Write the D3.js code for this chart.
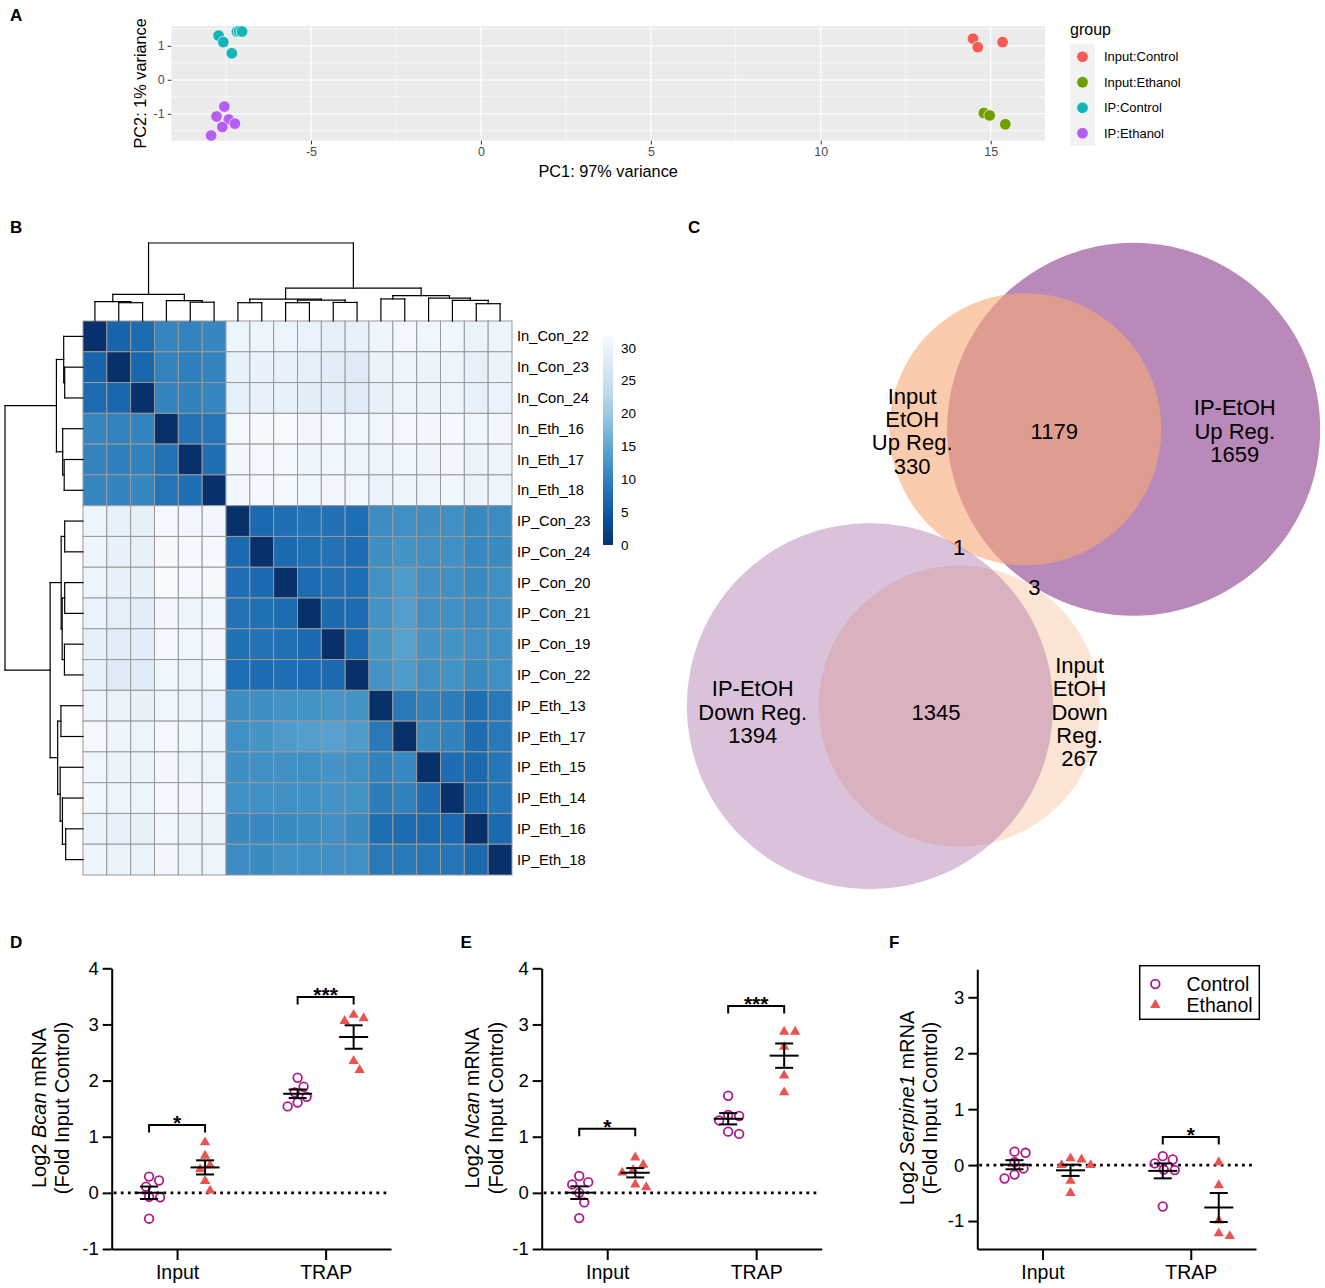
<!DOCTYPE html>
<html>
<head>
<meta charset="utf-8">
<script src="https://cdn.jsdelivr.net/npm/d3@7"></script>
<style>
  body { margin: 0; background: #fff; }
  svg { display: block; }
  text { font-family: "Liberation Sans", Arial, Helvetica, sans-serif; }
</style>
</head>
<body>
<svg id="fig" width="1325" height="1288"></svg>
<script>
// ---------- data: panel A (PCA) ----------
var pcaGroups = ["Input:Control", "Input:Ethanol", "IP:Control", "IP:Ethanol"];
var pcaColors = ["#F25C55", "#6F9E00", "#14B4B7", "#B45EF5"];
var pcaInputCon = [[14.48, 1.21], [14.62, 0.96], [15.35, 1.11]];
var pcaInputEth = [[14.80, -0.98], [14.97, -1.05], [15.43, -1.31]];
var pcaIPCon = [[-7.72, 1.30], [-7.58, 1.11], [-7.33, 0.78], [-7.18, 1.42], [-7.11, 1.43], [-7.03, 1.42]];
var pcaIPEth = [[-7.55, -0.79], [-7.78, -1.08], [-7.42, -1.17], [-7.61, -1.39], [-7.24, -1.29], [-7.94, -1.64]];
var pcaXTicks = [-5, 0, 5, 10, 15], pcaXMinor = [-7.5, -2.5, 2.5, 7.5, 12.5];
var pcaYTicks = [-1, 0, 1], pcaYMinor = [-1.5, -0.5, 0.5, 1.5];

// ---------- data: panel B (sample distance heatmap) ----------
var sampleNames = ["In_Con_22", "In_Con_23", "In_Con_24", "In_Eth_16", "In_Eth_17", "In_Eth_18",
  "IP_Con_23", "IP_Con_24", "IP_Con_20", "IP_Con_21", "IP_Con_19", "IP_Con_22",
  "IP_Eth_13", "IP_Eth_17", "IP_Eth_15", "IP_Eth_14", "IP_Eth_16", "IP_Eth_18"];
// lower triangle of the distance matrix, row i = distances to samples 0..i-1
var distLower = [
  [],
  [6.5],
  [7.4, 6.7],
  [10.4, 10.2, 10.3],
  [10.2, 9.8, 10.1, 8.1],
  [10.6, 10.3, 10.5, 8.4, 7.8],
  [30.3, 29.4, 29.2, 31.2, 31.0, 31.1],
  [30.6, 29.8, 29.6, 31.6, 31.2, 31.4, 7.0],
  [30.4, 29.6, 29.5, 32.0, 31.4, 31.5, 7.8, 7.2],
  [29.9, 29.0, 28.8, 31.0, 30.6, 30.9, 8.2, 7.9, 7.3],
  [29.2, 28.5, 28.4, 31.2, 30.8, 31.0, 8.0, 8.1, 7.9, 7.2],
  [29.4, 28.0, 28.2, 30.8, 30.4, 30.7, 7.6, 7.5, 7.6, 7.3, 7.1],
  [30.5, 30.0, 29.8, 30.8, 30.3, 29.9, 11.4, 11.6, 12.0, 12.1, 12.5, 12.1],
  [31.2, 30.6, 30.4, 31.2, 30.9, 30.6, 11.8, 12.3, 13.2, 13.7, 14.1, 13.3, 9.0],
  [30.8, 30.2, 30.0, 31.0, 30.6, 30.4, 11.6, 11.8, 11.9, 11.8, 12.3, 11.8, 10.0, 10.8],
  [30.9, 30.4, 30.3, 31.4, 31.0, 30.8, 11.7, 11.9, 11.8, 11.9, 12.3, 12.2, 9.5, 10.0, 7.5],
  [30.0, 29.6, 29.5, 30.8, 30.2, 30.0, 10.9, 10.8, 11.2, 11.3, 11.7, 11.2, 7.6, 7.5, 7.1, 7.0],
  [30.5, 30.0, 29.9, 31.0, 30.6, 30.4, 11.3, 11.2, 11.7, 11.7, 11.8, 11.7, 9.0, 9.0, 8.6, 8.5, 7.0]
];
// hierarchical clustering tree (leaf = sample index, h = merge height)
var sampleTree = {h: 31.1, kids: [
  {h: 10.6, kids: [{h: 7.7, kids: [0, {h: 7.3, kids: [1, 2]}]}, {h: 8.1, kids: [3, {h: 7.5, kids: [4, 5]}]}]},
  {h: 13.1, kids: [
    {h: 8.7, kids: [{h: 7.3, kids: [6, 7]}, {h: 8.3, kids: [{h: 7.3, kids: [8, 9]}, {h: 7.4, kids: [10, 11]}]}]},
    {h: 10.1, kids: [{h: 8.8, kids: [12, 13]}, {h: 9.1, kids: [14, {h: 8.2, kids: [15, {h: 6.9, kids: [16, 17]}]}]}]}
  ]}
]};
var legendTicks = [0, 5, 10, 15, 20, 25, 30];
var blues9 = ["#08306b", "#08519c", "#2171b5", "#4292c6", "#6baed6", "#9ecae1", "#c6dbef", "#deebf7", "#f7fbff"];

// ---------- data: panel C (Venn) ----------
var vennNames = [["Input", "EtOH", "Up Reg."], ["IP-EtOH", "Up Reg."], ["IP-EtOH", "Down Reg."], ["Input", "EtOH", "Down", "Reg."]];
var vennUnique = [330, 1659, 1394, 267];
var vennShared = [{sets: [0, 1], n: 1179}, {sets: [2, 3], n: 1345}, {sets: [0, 2], n: 1}, {sets: [1, 3], n: 3}];
var vennColors = ["#F8A876", "#965096", "#965096", "#F8A876"];
var vennAlpha = [0.6, 0.67, 0.35, 0.3];
var vennCrossAngle = 119.3; // degrees, direction Input-Up centre -> IP-Down centre

// ---------- data: panels D-F (qPCR) ----------
var dotCategories = ["Input", "TRAP"];
var bcanControl = [[0.22, 0.29, 0.11, -0.07, -0.08, -0.46], [2.05, 1.89, 1.79, 1.71, 1.61, 1.54]];
var bcanEthanol = [[0.90, 0.66, 0.49, 0.42, 0.21, 0.04], [3.17, 3.06, 3.11, 2.35, 2.19]];
var ncanControl = [[0.19, 0.30, 0.15, 0.00, -0.17, -0.45], [1.73, 1.39, 1.37, 1.29, 1.05, 1.09]];
var ncanEthanol = [[0.50, 0.63, 0.41, 0.36, 0.10, 0.15], [2.87, 2.87, 2.60, 2.09, 1.79]];
var serpControl = [[0.22, 0.24, 0.05, -0.06, -0.24, -0.17], [0.03, 0.16, 0.10, -0.09, -0.08, -0.74]];
var serpEthanol = [[0.10, 0.12, 0.00, 0.00, -0.28, -0.50], [0.05, -0.36, -0.99, -1.27, -1.22]];
var bcanSig = [{cat: 0, y: 1.21, label: "*"}, {cat: 1, y: 3.49, label: "***"}];
var ncanSig = [{cat: 0, y: 1.14, label: "*"}, {cat: 1, y: 3.33, label: "***"}];
var serpSig = [{cat: 1, y: 0.50, label: "*"}];

var svg = d3.select("#fig");

function panelLetter(t, x, y) {
  svg.append("text").attr("x", x).attr("y", y).attr("font-size", 17)
    .attr("font-weight", "bold").text(t);
}

// ================= A: PCA =================
(function () {
  var g = svg.append("g");
  var all = pcaInputCon.concat(pcaInputEth, pcaIPCon, pcaIPEth);
  function expand(ext) { var d = (ext[1] - ext[0]) * 0.05; return [ext[0] - d, ext[1] + d]; }
  var L = 171.4, R = 1045, T = 26, B = 140.7;
  var x = d3.scaleLinear().domain(expand(d3.extent(all, function (d) { return d[0]; }))).range([L, R]);
  var y = d3.scaleLinear().domain(expand(d3.extent(all, function (d) { return d[1]; }))).range([B, T]);

  g.append("rect").attr("x", L).attr("y", T).attr("width", R - L).attr("height", B - T).attr("fill", "#ebebeb");
  g.selectAll(".xmin").data(pcaXMinor).enter().append("line")
    .attr("x1", x).attr("x2", x).attr("y1", T).attr("y2", B).attr("stroke", "#fff").attr("stroke-width", 0.6);
  g.selectAll(".ymin").data(pcaYMinor).enter().append("line")
    .attr("y1", y).attr("y2", y).attr("x1", L).attr("x2", R).attr("stroke", "#fff").attr("stroke-width", 0.6);
  g.selectAll(".xmaj").data(pcaXTicks).enter().append("line")
    .attr("x1", x).attr("x2", x).attr("y1", T).attr("y2", B).attr("stroke", "#fff").attr("stroke-width", 1.2);
  g.selectAll(".ymaj").data(pcaYTicks).enter().append("line")
    .attr("y1", y).attr("y2", y).attr("x1", L).attr("x2", R).attr("stroke", "#fff").attr("stroke-width", 1.2);

  var xa = g.append("g").attr("transform", "translate(0," + B + ")")
    .call(d3.axisBottom(x).tickValues(pcaXTicks).tickSize(3.7).tickSizeOuter(0).tickPadding(3)
      .tickFormat(function (d) { return String(d); }));
  var ya = g.append("g").attr("transform", "translate(" + L + ",0)")
    .call(d3.axisLeft(y).tickValues(pcaYTicks).tickSize(3.7).tickSizeOuter(0).tickPadding(3)
      .tickFormat(function (d) { return String(d); }));
  [xa, ya].forEach(function (a) {
    a.select(".domain").remove();
    a.selectAll("line").attr("stroke", "#333");
    a.selectAll("text").attr("fill", "#4d4d4d").attr("font-size", 12.5)
      .style("font-family", "'Liberation Sans', Arial, sans-serif");
  });

  var groups = [pcaInputCon, pcaInputEth, pcaIPCon, pcaIPEth];
  groups.forEach(function (pts, gi) {
    g.selectAll(".pt" + gi).data(pts).enter().append("circle")
      .attr("cx", function (d) { return x(d[0]); }).attr("cy", function (d) { return y(d[1]); })
      .attr("r", 5.8).attr("fill", pcaColors[gi]).attr("stroke", "#fff").attr("stroke-width", 0.7);
  });

  g.append("text").attr("x", (L + R) / 2).attr("y", 176.5).attr("text-anchor", "middle")
    .attr("font-size", 16.3).text("PC1: 97% variance");
  g.append("text").attr("transform", "translate(139.5," + ((T + B) / 2) + ") rotate(-90)")
    .attr("text-anchor", "middle").attr("dominant-baseline", "central")
    .attr("font-size", 16.3).text("PC2: 1% variance");

  // legend
  var ly = d3.scaleBand().domain(pcaGroups).range([44, 146]);
  g.append("text").attr("x", 1070).attr("y", 35).attr("font-size", 16).text("group");
  g.append("rect").attr("x", 1070).attr("y", 44).attr("width", 25).attr("height", 102).attr("fill", "#f2f2f2");
  pcaGroups.forEach(function (name, i) {
    var cy = ly(name) + ly.bandwidth() / 2;
    g.append("circle").attr("cx", 1082.5).attr("cy", cy).attr("r", 5.8)
      .attr("fill", pcaColors[i]).attr("stroke", "#fff").attr("stroke-width", 0.7);
    g.append("text").attr("x", 1104).attr("y", cy).attr("dominant-baseline", "central")
      .attr("font-size", 13).text(name);
  });
})();

// ================= B: heatmap =================
(function () {
  var g = svg.append("g");
  var n = sampleNames.length;
  var dist = d3.range(n).map(function (i) {
    return d3.range(n).map(function (j) {
      if (i === j) return 0;
      return i > j ? distLower[i][j] : distLower[j][i];
    });
  });
  var maxD = d3.max(dist, function (r) { return d3.max(r); });
  var color = d3.scaleLinear().domain(blues9.map(function (c, i) { return i * maxD / 8; }))
    .range(blues9).interpolate(d3.interpolateRgb);

  var idx = d3.range(n);
  var cx = d3.scaleBand().domain(idx).range([83, 512]);
  var cy = d3.scaleBand().domain(idx).range([321, 875]);

  var cells = [];
  dist.forEach(function (row, i) { row.forEach(function (v, j) { cells.push({i: i, j: j, v: v}); }); });
  g.selectAll(".cell").data(cells).enter().append("rect")
    .attr("x", function (d) { return cx(d.j); }).attr("y", function (d) { return cy(d.i); })
    .attr("width", cx.bandwidth()).attr("height", cy.bandwidth())
    .attr("fill", function (d) { return color(d.v); })
    .attr("stroke", "#999").attr("stroke-width", 1);

  g.selectAll(".rlab").data(sampleNames).enter().append("text")
    .attr("x", 517).attr("y", function (d, i) { return cy(i) + cy.bandwidth() / 2; })
    .attr("dominant-baseline", "central").attr("font-size", 14.7).text(function (d) { return d; });

  // dendrograms
  var hs = d3.scaleLinear().domain([0, sampleTree.h]).range([0, 78]);
  function pos(node, band) {
    if (typeof node === "number") return band(node) + band.bandwidth() / 2;
    return d3.mean(node.kids, function (k) { return pos(k, band); });
  }
  function height(node) { return typeof node === "number" ? 0 : node.h; }
  var segsTop = [], segsLeft = [];
  (function walk(node) {
    if (typeof node === "number") return;
    var p = node.kids.map(function (k) { return pos(k, cx); });
    var q = node.kids.map(function (k) { return pos(k, cy); });
    segsTop.push([p[0], node.h, p[1], node.h]);
    segsLeft.push([node.h, q[0], node.h, q[1]]);
    node.kids.forEach(function (k, i) {
      segsTop.push([p[i], node.h, p[i], height(k)]);
      segsLeft.push([node.h, q[i], height(k), q[i]]);
      walk(k);
    });
  })(sampleTree);
  g.selectAll(".dt").data(segsTop).enter().append("line")
    .attr("x1", function (d) { return d[0]; }).attr("x2", function (d) { return d[2]; })
    .attr("y1", function (d) { return 321 - hs(d[1]); }).attr("y2", function (d) { return 321 - hs(d[3]); })
    .attr("stroke", "#000").attr("stroke-width", 1.2).attr("stroke-linecap", "square");
  g.selectAll(".dl").data(segsLeft).enter().append("line")
    .attr("x1", function (d) { return 83 - hs(d[0]); }).attr("x2", function (d) { return 83 - hs(d[2]); })
    .attr("y1", function (d) { return d[1]; }).attr("y2", function (d) { return d[3]; })
    .attr("stroke", "#000").attr("stroke-width", 1.2).attr("stroke-linecap", "square");

  // colour legend
  var ls = d3.scaleLinear().domain([0, maxD]).range([545, 335]);
  var grad = svg.append("defs").append("linearGradient").attr("id", "bluesGrad")
    .attr("x1", 0).attr("y1", 1).attr("x2", 0).attr("y2", 0);
  blues9.forEach(function (c, i) { grad.append("stop").attr("offset", i / 8).attr("stop-color", c); });
  g.append("rect").attr("x", 603).attr("y", ls(maxD)).attr("width", 10)
    .attr("height", ls(0) - ls(maxD)).attr("fill", "url(#bluesGrad)");
  g.selectAll(".lt").data(legendTicks).enter().append("text")
    .attr("x", 621).attr("y", function (d) { return ls(d); }).attr("dominant-baseline", "central")
    .attr("font-size", 13.5).text(function (d) { return d; });
})();

// ================= C: Venn =================
(function () {
  var g = svg.append("g");
  var k = 3.5, unitArea = Math.PI * k * k;
  var sizes = vennUnique.map(function (u, i) {
    return u + d3.sum(vennShared.filter(function (s) { return s.sets.indexOf(i) >= 0; }), function (s) { return s.n; });
  });
  var r = sizes.map(function (s) { return k * Math.sqrt(s); });
  function lens(r1, r2, d) {
    if (d >= r1 + r2) return 0;
    if (d <= Math.abs(r1 - r2)) return Math.PI * Math.min(r1, r2) * Math.min(r1, r2);
    var a = r1 * r1 * Math.acos((d * d + r1 * r1 - r2 * r2) / (2 * d * r1));
    var b = r2 * r2 * Math.acos((d * d + r2 * r2 - r1 * r1) / (2 * d * r2));
    var c = 0.5 * Math.sqrt((-d + r1 + r2) * (d + r1 - r2) * (d - r1 + r2) * (d + r1 + r2));
    return a + b - c;
  }
  function distFor(i, j, n) {
    var lo = Math.abs(r[i] - r[j]), hi = r[i] + r[j], target = n * unitArea;
    for (var it = 0; it < 60; it++) {
      var mid = (lo + hi) / 2;
      if (lens(r[i], r[j], mid) > target) lo = mid; else hi = mid;
    }
    return (lo + hi) / 2;
  }
  var dTop = distFor(0, 1, vennShared[0].n), dBot = distFor(2, 3, vennShared[1].n);
  var d02 = distFor(0, 2, vennShared[2].n);
  var ang = vennCrossAngle * Math.PI / 180;
  var L = [d02 * Math.cos(ang), d02 * Math.sin(ang)];
  var c = [[0, 0], [dTop, 0], L, [L[0] + dBot, L[1]]];
  var bx = [Math.min(c[2][0] - r[2], c[0][0] - r[0]), c[1][0] + r[1]];
  var by = [Math.min(c[0][1] - r[0], c[1][1] - r[1]), c[2][1] + r[2]];
  var ox = 1003.5 - (bx[0] + bx[1]) / 2, oy = 566 - (by[0] + by[1]) / 2;
  c = c.map(function (p) { return [p[0] + ox, p[1] + oy]; });

  [1, 0, 3, 2].forEach(function (i) {
    g.append("circle").attr("cx", c[i][0]).attr("cy", c[i][1]).attr("r", r[i])
      .attr("fill", vennColors[i]).attr("fill-opacity", vennAlpha[i]);
  });

  var fs = 22, lh = 23.3;
  function block(lines, x, y) {
    var t = g.append("text").attr("text-anchor", "middle").attr("font-size", fs);
    var y0 = y - (lines.length - 1) * lh / 2;
    lines.forEach(function (s, i) {
      t.append("tspan").attr("x", x).attr("y", y0 + i * lh).attr("dominant-baseline", "central").text(s);
    });
  }
  var yTop = (c[0][1] + c[1][1]) / 2 + 2, yBot = (c[2][1] + c[3][1]) / 2 + 6;
  block(vennNames[0].concat([vennUnique[0]]), ((c[0][0] - r[0]) + (c[1][0] - r[1])) / 2 - 6, yTop);
  block([String(vennShared[0].n)], ((c[1][0] - r[1]) + (c[0][0] + r[0])) / 2, yTop);
  block(vennNames[1].concat([vennUnique[1]]), ((c[0][0] + r[0]) + (c[1][0] + r[1])) / 2 - 6, yTop);
  block(vennNames[2].concat([vennUnique[2]]), ((c[2][0] - r[2]) + (c[3][0] - r[3])) / 2, yBot);
  block([String(vennShared[1].n)], ((c[3][0] - r[3]) + (c[2][0] + r[2])) / 2, yBot);
  block(vennNames[3].concat([vennUnique[3]]), ((c[2][0] + r[2]) + (c[3][0] + r[3])) / 2 + 3, yBot);
  [2, 3].forEach(function (si) {
    var s = vennShared[si], p = c[s.sets[0]], q = c[s.sets[1]];
    var len = Math.hypot(q[0] - p[0], q[1] - p[1]);
    var along = r[s.sets[0]] + (len - r[s.sets[0]] - r[s.sets[1]]) / 2;
    block([String(s.n)], p[0] + (q[0] - p[0]) / len * along, p[1] + (q[1] - p[1]) / len * along);
  });
})();

// ================= D-F: dot plots =================
function swarm(vals, ypx, minD) {
  var order = d3.range(vals.length).sort(function (a, b) { return vals[b] - vals[a]; });
  var placed = [], off = [];
  order.forEach(function (i) {
    var yy = ypx(vals[i]);
    for (var s = 0; s < 80; s++) {
      var dx = s === 0 ? 0 : (s % 2 ? Math.ceil(s / 2) : -Math.ceil(s / 2));
      if (placed.every(function (p) { return Math.hypot(p[0] - dx, p[1] - yy) >= minD; })) {
        off[i] = dx; placed.push([dx, yy]); break;
      }
    }
  });
  return off;
}

var markCircle = {r: 4.3, stroke: "#AE1A8B", width: 1.8};
var markTriangle = {size: 46, fill: "#EA5350"};

function dotPanel(cfg) {
  var g = svg.append("g");
  var y = d3.scaleLinear().domain(cfg.domain).range([1249, cfg.top]);
  var x = d3.scalePoint().domain(dotCategories).range([cfg.left, cfg.right]).padding(0.44);
  var groupShift = 28;

  var ya = g.append("g").attr("transform", "translate(" + cfg.left + ",0)")
    .call(d3.axisLeft(y).tickValues(cfg.ticks).tickSize(9).tickSizeOuter(0).tickPadding(4)
      .tickFormat(function (d) { return String(d); }));
  var xa = g.append("g").attr("transform", "translate(0,1249)")
    .call(d3.axisBottom(x).tickSize(11).tickSizeOuter(0).tickPadding(5));
  [ya, xa].forEach(function (a) {
    a.select(".domain").attr("stroke-width", 2);
    a.selectAll("line").attr("stroke-width", 2);
    a.selectAll("text").attr("fill", "#000").style("font-family", "'Liberation Sans', Arial, sans-serif");
  });
  ya.selectAll("text").attr("font-size", 18.5);
  xa.selectAll("text").attr("font-size", 19.5);

  g.append("line").attr("x1", cfg.left + 2).attr("x2", cfg.right - 4)
    .attr("y1", y(0)).attr("y2", y(0)).attr("stroke", "#000").attr("stroke-width", 2.8)
    .attr("stroke-dasharray", "2.8,4.3");

  var series = [{vals: cfg.control, shift: -groupShift, kind: "c"}, {vals: cfg.ethanol, shift: groupShift, kind: "t"}];
  series.forEach(function (s) {
    s.vals.forEach(function (vals, ci) {
      var cxp = x(dotCategories[ci]) + s.shift;
      var off = swarm(vals, y, 10.5);
      var pts = vals.map(function (v, i) { return {x: cxp + off[i], y: y(v)}; });
      if (s.kind === "c") {
        g.selectAll(null).data(pts).enter().append("circle")
          .attr("cx", function (d) { return d.x; }).attr("cy", function (d) { return d.y; })
          .attr("r", markCircle.r).attr("fill", "none").attr("stroke", markCircle.stroke)
          .attr("stroke-width", markCircle.width);
      } else {
        var tri = d3.symbol().type(d3.symbolTriangle).size(markTriangle.size);
        g.selectAll(null).data(pts).enter().append("path").attr("d", tri)
          .attr("transform", function (d) { return "translate(" + d.x + "," + d.y + ")"; })
          .attr("fill", markTriangle.fill);
      }
      var m = d3.mean(vals), se = d3.deviation(vals) / Math.sqrt(vals.length);
      var sem = [[cxp - 14.5, y(m), cxp + 14.5, y(m)], [cxp - 9, y(m + se), cxp + 9, y(m + se)],
        [cxp - 9, y(m - se), cxp + 9, y(m - se)], [cxp, y(m + se), cxp, y(m - se)]];
      g.selectAll(null).data(sem).enter().append("line")
        .attr("x1", function (d) { return d[0]; }).attr("y1", function (d) { return d[1]; })
        .attr("x2", function (d) { return d[2]; }).attr("y2", function (d) { return d[3]; })
        .attr("stroke", "#000").attr("stroke-width", 2);
    });
  });

  cfg.sig.forEach(function (s) {
    var x0 = x(dotCategories[s.cat]) - groupShift, x1 = x(dotCategories[s.cat]) + groupShift, yy = y(s.y);
    g.append("path").attr("d", "M" + x0 + "," + (yy + 7.5) + "V" + yy + "H" + x1 + "V" + (yy + 7.5))
      .attr("fill", "none").attr("stroke", "#000").attr("stroke-width", 2);
    g.append("text").attr("x", (x0 + x1) / 2).attr("y", yy + 5).attr("text-anchor", "middle")
      .attr("font-size", 21).attr("font-weight", "bold").text(s.label);
  });

  var midY = 1108;
  var t1 = g.append("text").attr("transform", "translate(" + cfg.t1 + "," + midY + ") rotate(-90)")
    .attr("text-anchor", "middle").attr("dominant-baseline", "central").attr("font-size", 20);
  t1.append("tspan").text("Log2 ");
  t1.append("tspan").attr("font-style", "italic").text(cfg.gene);
  t1.append("tspan").text(" mRNA");
  g.append("text").attr("transform", "translate(" + cfg.t2 + "," + midY + ") rotate(-90)")
    .attr("text-anchor", "middle").attr("dominant-baseline", "central").attr("font-size", 20)
    .text("(Fold Input Control)");
  return g;
}

dotPanel({left: 111.7, right: 391, top: 968.3, domain: [-1, 4], ticks: [-1, 0, 1, 2, 3, 4],
  control: bcanControl, ethanol: bcanEthanol, sig: bcanSig, gene: "Bcan", t1: 38.5, t2: 61.8});
dotPanel({left: 541.7, right: 821.7, top: 968.3, domain: [-1, 4], ticks: [-1, 0, 1, 2, 3, 4],
  control: ncanControl, ethanol: ncanEthanol, sig: ncanSig, gene: "Ncan", t1: 472, t2: 495.5});
var fPanel = dotPanel({left: 977.3, right: 1256, top: 969.3, domain: [-1.5, 3.5], ticks: [-1, 0, 1, 2, 3],
  control: serpControl, ethanol: serpEthanol, sig: serpSig, gene: "Serpine1", t1: 906.5, t2: 930});

// legend for F
fPanel.append("rect").attr("x", 1139.7).attr("y", 965.7).attr("width", 119.6).attr("height", 53.6)
  .attr("fill", "#fff").attr("stroke", "#000").attr("stroke-width", 1.5);
fPanel.append("circle").attr("cx", 1155.3).attr("cy", 984).attr("r", markCircle.r)
  .attr("fill", "none").attr("stroke", markCircle.stroke).attr("stroke-width", markCircle.width);
fPanel.append("path").attr("d", d3.symbol().type(d3.symbolTriangle).size(markTriangle.size))
  .attr("transform", "translate(1155.3,1005)").attr("fill", markTriangle.fill);
fPanel.append("text").attr("x", 1186.5).attr("y", 984).attr("dominant-baseline", "central")
  .attr("font-size", 19.5).text("Control");
fPanel.append("text").attr("x", 1186.5).attr("y", 1005).attr("dominant-baseline", "central")
  .attr("font-size", 19.5).text("Ethanol");

panelLetter("A", 10, 21);
panelLetter("B", 10, 233);
panelLetter("C", 688, 233);
panelLetter("D", 10, 948);
panelLetter("E", 460.5, 948);
panelLetter("F", 889, 948);
</script>
</body>
</html>
